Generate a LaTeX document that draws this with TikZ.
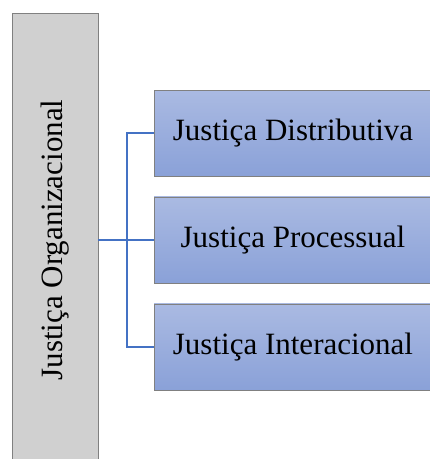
\documentclass[tikz,border=0pt]{standalone}
\usepackage{fontspec}
\setmainfont{Liberation Serif}
\usetikzlibrary{positioning}
\definecolor{cinza}{HTML}{D0D0D0}
\definecolor{azulcima}{HTML}{AABAE2}
\definecolor{azulbaixo}{HTML}{8AA1D8}
\definecolor{linha}{HTML}{4472C4}
\tikzset{
  raizbox/.style={draw=gray, fill=cinza, minimum width=86pt, minimum height=454pt, inner sep=0pt},
  ramo/.style={draw=gray, top color=azulcima, bottom color=azulbaixo, minimum width=278pt, minimum height=86pt, inner sep=0pt},
  elo/.style={draw=linha, line width=1.8pt},
}
\begin{document}
\begin{tikzpicture}[x=1pt, y=-1pt, font=\fontsize{31}{36}\selectfont, node distance=20.5pt]
\useasboundingbox (0,0) rectangle (430,459);
\node[raizbox] (raiz) at (55,240) {};
\node[rotate=90] (rotulo) at (55,240) {Justiça Organizacional};
\node[ramo] (distr) at (293,133) {Justiça Distributiva};
\node[ramo, below=of distr] (proc) {Justiça Processual};
\node[ramo, below=of proc] (inter) {Justiça Interacional};
\coordinate (tronco) at (127,240);
\draw[elo] (raiz.east) -- (proc.west);
\draw[elo] (distr.west) -| (tronco) |- (inter.west);
\end{tikzpicture}
\end{document}
